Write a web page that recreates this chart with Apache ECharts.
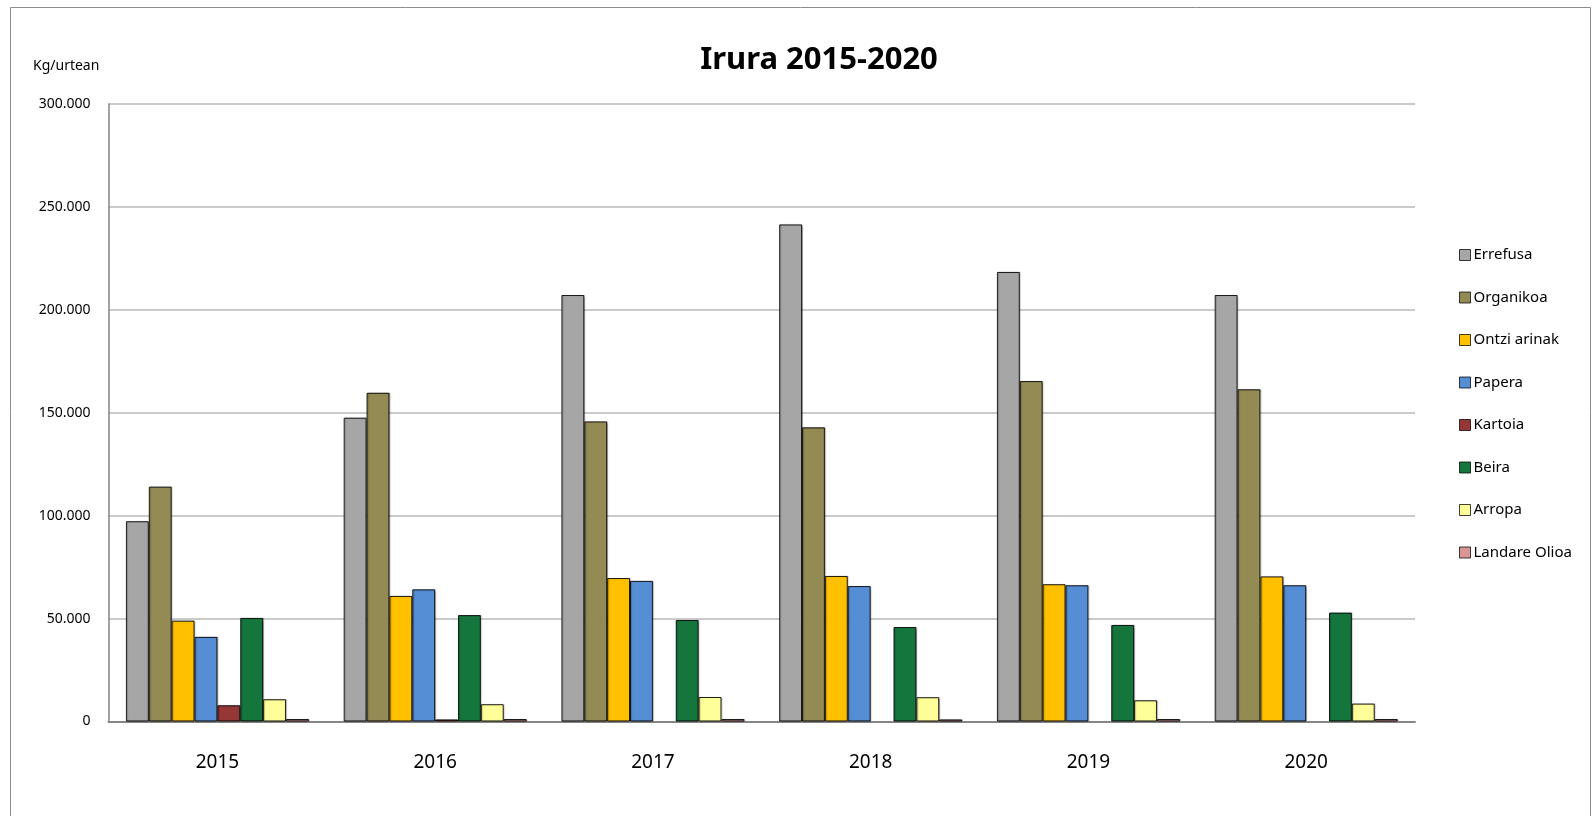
<!DOCTYPE html>
<html>
<head>
<meta charset="utf-8">
<script src="https://cdn.jsdelivr.net/npm/echarts@6/dist/echarts.min.js"></script>
<style>
  html, body { margin: 0; padding: 0; background: #fff; }
  #chart { width: 1593px; height: 816px; }
</style>
</head>
<body>
<div id="chart"></div>
<script>
const years = ['2015', '2016', '2017', '2018', '2019', '2020'];
const seriesNames = ['Errefusa', 'Organikoa', 'Ontzi arinak', 'Papera', 'Kartoia', 'Beira', 'Arropa', 'Landare Olioa'];
const errefusa    = [97300, 147600, 207200, 241500, 218400, 207200];
const organikoa   = [114100, 159700, 145800, 142900, 165400, 161400];
const ontziArinak = [49000, 61000, 69700, 70700, 66700, 70500];
const papera      = [41100, 64200, 68300, 65800, 66200, 66200];
const kartoia     = [7900, 1000, null, null, null, null];
const beira       = [50300, 51700, 49300, 45900, 46900, 52900];
const arropa      = [10800, 8400, 11900, 11800, 10300, 8700];
const landareOlioa = [1200, 1200, 1200, 1000, 1200, 1200];
const yTicks = [0, 50000, 100000, 150000, 200000, 250000, 300000];

const allValues = [errefusa, organikoa, ontziArinak, papera, kartoia, beira, arropa, landareOlioa];
const colors = ['#A6A6A6', '#948A54', '#FFC000', '#558ED5', '#953735', '#15763D', '#FFFF99', '#D99694'];

function fmt(v) {
  return String(v).replace(/\B(?=(\d{3})+(?!\d))/g, '.');
}

const chart = echarts.init(document.getElementById('chart'), null, { renderer: 'canvas' });

const series = seriesNames.map((name, i) => ({
  name: name,
  type: 'bar',
  data: allValues[i],
  barGap: '0%',
  barCategoryGap: '16%',
  itemStyle: {
    color: colors[i],
    borderColor: 'rgba(0,0,0,0.85)',
    borderWidth: 1,
    shadowColor: 'rgba(0,0,0,0.25)',
    shadowOffsetX: 1,
    shadowOffsetY: 0,
    shadowBlur: 1
  },
  emphasis: { disabled: true },
  animation: false
}));

chart.setOption({
  animation: false,
  backgroundColor: '#fff',
  textStyle: { fontFamily: 'Noto Sans' },
  title: [
    {
      text: 'Irura 2015-2020',
      left: 814, top: 40, textAlign: 'center',
      textStyle: { fontFamily: 'Noto Sans', fontWeight: 'bold', fontSize: 31, color: '#000' }
    },
    {
      text: 'Kg/urtean',
      left: 28, top: 54,
      textStyle: { fontFamily: 'Noto Sans', fontWeight: 'normal', fontSize: 14, color: '#000' }
    }
  ],
  graphic: [{
    type: 'rect',
    shape: { x: 10.5, y: 7.5, width: 1580, height: 820 },
    style: { fill: 'none', stroke: '#8c8c8c', lineWidth: 1 },
    silent: true, z: -1
  }],
  legend: {
    orient: 'vertical',
    left: 1454, top: 242,
    itemWidth: 11, itemHeight: 11, itemGap: 26.5,
    icon: 'rect',
    data: seriesNames,
    selectedMode: false,
    itemStyle: { borderColor: 'rgba(0,0,0,0.75)', borderWidth: 1 },
    textStyle: { fontFamily: 'Noto Sans', fontSize: 15, color: '#000', lineHeight: 16, padding: [0, 0, 0, -2] }
  },
  grid: { left: 108.5, right: 178, top: 104, bottom: 94.5, containLabel: false },
  xAxis: {
    type: 'category',
    data: years,
    axisLine: { show: true, lineStyle: { color: '#868686', width: 2 } },
    axisTick: { show: false },
    axisLabel: { fontFamily: 'Noto Sans', fontSize: 19, color: '#000', margin: 32 },
    splitLine: { show: false }
  },
  yAxis: {
    type: 'value',
    min: yTicks[0], max: yTicks[yTicks.length - 1], interval: yTicks[1] - yTicks[0],
    axisLine: { show: true, lineStyle: { color: '#868686', width: 1.5 } },
    axisTick: { show: false },
    axisLabel: { fontFamily: 'Noto Sans', fontSize: 14, color: '#000', margin: 18, formatter: fmt },
    splitLine: { show: true, lineStyle: { color: '#B8B8B8', width: 1.5 } }
  },
  series: series
});
</script>
</body>
</html>
